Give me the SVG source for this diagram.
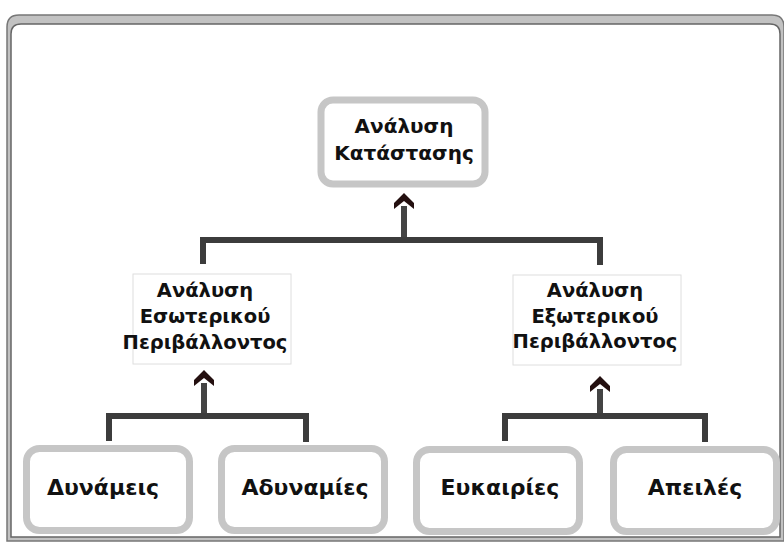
<svg xmlns="http://www.w3.org/2000/svg" xmlns:xlink="http://www.w3.org/1999/xlink" width="784" height="545" viewBox="0 0 784 545">
<defs>
<style>
.t{font-family:"DejaVu Sans","Liberation Sans",sans-serif;font-weight:bold;fill:#111;text-anchor:middle}
.box{fill:#fff;stroke:#c6c6c6;stroke-width:7}
.faint{fill:#fff;stroke:#dedede;stroke-width:1}
.bar{fill:none;stroke:#3c3c3c;stroke-width:6;stroke-linejoin:miter}
.stem{stroke:#444;stroke-width:6}
</style>
<path id="chev" d="M0,0 L10,10 L10,16 L0,8 L-10,16 L-10,10 Z" fill="#241010"/>
</defs>
<rect width="784" height="545" fill="#fff"/>
<g id="frame">
<path d="M7,541 L7,27 Q7,15 19,15 L772,15 Q784,15 784,27 L784,541 Z" fill="#c2c2c2" stroke="#777" stroke-width="1.5"/>
<path d="M11,537 L11,34 Q11,24 21,24 L770,24 Q780,24 780,34 L780,537 Z" fill="#fff" stroke="#666" stroke-width="1.5"/>
</g>
<g id="connectors">
<path class="bar" d="M203,264 L203,240 L600,240 L600,265"/>
<line class="stem" x1="404" y1="206" x2="404" y2="237"/>
<use xlink:href="#chev" x="404" y="193"/>
<path class="bar" d="M109,441 L109,416 L306,416 L306,442"/>
<line class="stem" x1="204" y1="383" x2="204" y2="413"/>
<use xlink:href="#chev" x="204" y="370"/>
<path class="bar" d="M505,441 L505,416 L705,416 L705,442"/>
<line class="stem" x1="600" y1="389" x2="600" y2="413"/>
<use xlink:href="#chev" x="600" y="376"/>
</g>
<g id="node-analysi-katastasis">
<rect class="box" x="321" y="100" width="164" height="84" rx="12"/>
<text class="t" font-size="20" x="404" y="133">Ανάλυση</text>
<text class="t" font-size="20" x="404" y="160">Κατάστασης</text>
</g>
<g id="node-esoteriko">
<rect class="faint" x="133" y="274" width="158" height="90"/>
<text class="t" font-size="19.5" x="205" y="297">Ανάλυση</text>
<text class="t" font-size="19.5" x="205" y="323">Εσωτερικού</text>
<text class="t" font-size="19.5" x="205" y="349">Περιβάλλοντος</text>
</g>
<g id="node-exoteriko">
<rect class="faint" x="513" y="275" width="168" height="90"/>
<text class="t" font-size="19.5" x="595" y="297">Ανάλυση</text>
<text class="t" font-size="19.5" x="595" y="323">Εξωτερικού</text>
<text class="t" font-size="19.5" x="595" y="348">Περιβάλλοντος</text>
</g>
<g id="node-dynameis">
<rect class="box" x="26.5" y="448.5" width="163" height="82" rx="13"/>
<text class="t" font-size="22" x="103" y="495">Δυνάμεις</text>
</g>
<g id="node-adynamies">
<rect class="box" x="221.5" y="448.5" width="163" height="82" rx="13"/>
<text class="t" font-size="22" x="305" y="495">Αδυναμίες</text>
</g>
<g id="node-eykairies">
<rect class="box" x="416.5" y="449.5" width="163" height="82" rx="13"/>
<text class="t" font-size="22" x="500" y="495">Ευκαιρίες</text>
</g>
<g id="node-apeiles">
<rect class="box" x="613.5" y="449.5" width="163" height="82" rx="13"/>
<text class="t" font-size="22" x="695" y="495">Απειλές</text>
</g>
</svg>
